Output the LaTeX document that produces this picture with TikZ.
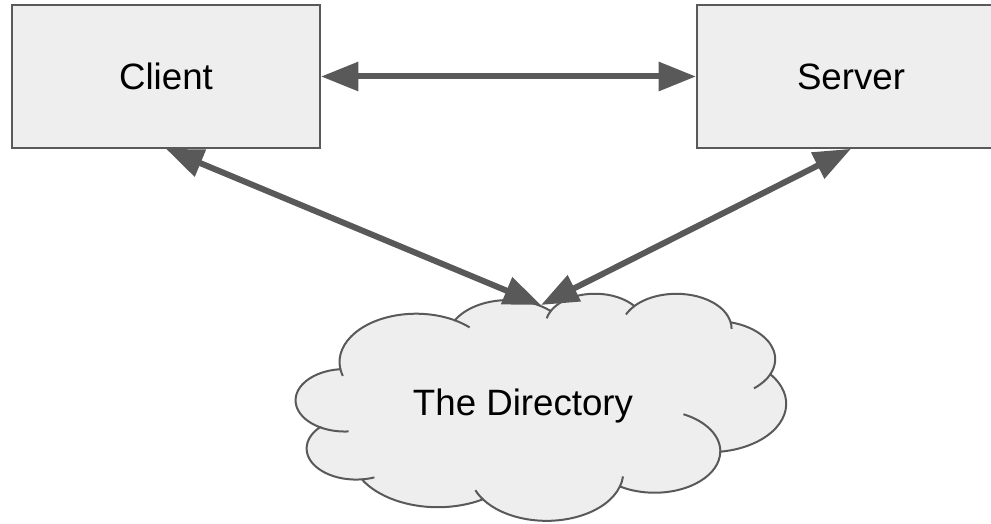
\documentclass[tikz,border=0pt]{standalone}
\usepackage{fontspec}
\setmainfont{Liberation Sans}
\usepackage{tikz}
\usetikzlibrary{
  positioning,
  arrows.meta
}
\definecolor{linegray}{HTML}{595959}
\definecolor{fillgray}{HTML}{EEEEEE}
\tikzstyle{box}=[draw=linegray, fill=fillgray, line width=1.5pt, minimum width=231pt, minimum height=107pt]
\tikzstyle{link}=[<->, >={Triangle[length=28pt, width=21pt]}, draw=linegray, line width=4.5pt]
\tikzstyle{cloudline}=[draw=linegray, line width=1.5pt]

\begin{document}
\begin{tikzpicture}[x=0.75pt, y=-0.75pt, font=\fontsize{27.5}{33}\selectfont]
    \useasboundingbox (0,0) rectangle (991,524);
    \clip (0,0) rectangle (991,524);

    % Client und Server
    \node[box] (client) at (166,76.5) {Client};
    \node[box, right=281.25pt of client] (server) {Server};

    % Wolke
    \begin{scope}[shift={(296,293)}, xscale=1.13426, yscale=0.52546]
      \filldraw[cloudline, fill=fillgray] (39.00,143.70) coordinate (j0)
        arc[x radius=67.53, y radius=91.90, start angle=-187.75, end angle=-59.64] coordinate (j1)
        arc[x radius=53.33, y radius=72.67, start angle=-152.02, end angle=-45.46] coordinate (j2)
        arc[x radius=43.65, y radius=59.45, start angle=-153.48, end angle=-37.33] coordinate (j3)
        arc[x radius=48.57, y radius=65.95, start angle=-139.71, end angle=-10.21] coordinate (j4)
        arc[x radius=53.33, y radius=72.73, start angle=-74.77, end angle=23.21] coordinate (j5)
        arc[x radius=67.75, y radius=92.20, start angle=-37.54, end angle=81.86] coordinate (j6)
        arc[x radius=57.85, y radius=78.67, start angle=0.46, end angle=121.98] coordinate (j7)
        arc[x radius=67.52, y radius=92.15, start angle=16.85, end angle=146.26] coordinate (j8)
        arc[x radius=77.20, y radius=105.43, start angle=58.99, end angle=150.19] coordinate (j9)
        arc[x radius=43.60, y radius=59.18, start angle=-276.69, end angle=-136.92] coordinate (j10)
        arc[x radius=43.45, y radius=59.45, start angle=-239.64, end angle=-95.89]
        -- cycle;
      % innere Boegen
      \draw[cloudline]
        (j1) arc[x radius=67.53, y radius=91.90, start angle=-59.64, end angle=-45.74]
        (j2) arc[x radius=43.65, y radius=59.45, start angle=-153.48, end angle=-167.72]
        (j3) arc[x radius=48.57, y radius=65.95, start angle=-139.71, end angle=-156.29]
        (j4) arc[x radius=48.57, y radius=65.95, start angle=-10.21, end angle=0.82]
        (j5) arc[x radius=53.33, y radius=72.73, start angle=23.21, end angle=49.64]
        (j6) arc[x radius=57.85, y radius=78.67, start angle=0.46, end angle=-64.02]
        (j7) arc[x radius=67.52, y radius=92.15, start angle=16.85, end angle=4.74]
        (j8) arc[x radius=67.52, y radius=92.15, start angle=146.26, end angle=158.47]
        (j9) arc[x radius=43.60, y radius=59.18, start angle=83.31, end angle=68.23]
        (j10) arc[x radius=43.45, y radius=59.45, start angle=120.36, end angle=85.55]
        (j0) arc[x radius=67.53, y radius=91.90, start angle=172.25, end angle=163.19];
    \end{scope}
    \node[anchor=base] (dir) at (523,415) {The Directory};

    % Endpunkt oben an der Wolke
    \coordinate (dirtop) at (541,305);

    % Verbindungen
    \draw[link] (client) -- (server);
    \draw[link] (client.south) -- (dirtop);
    \draw[link] (server.south) -- (dirtop);
\end{tikzpicture}
\end{document}
